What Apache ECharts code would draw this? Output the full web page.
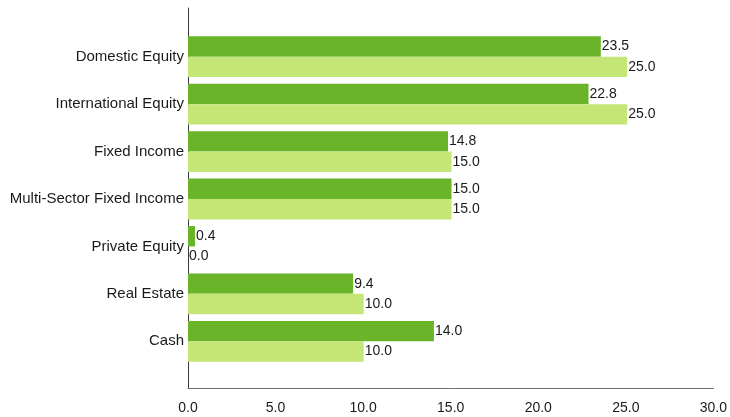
<!DOCTYPE html>
<html>
<head>
<meta charset="utf-8">
<script src="https://cdn.jsdelivr.net/npm/echarts@6/dist/echarts.min.js"></script>
<style>
  html, body { margin: 0; padding: 0; background: #fff; }
  #chart { width: 730px; height: 417px; }
</style>
</head>
<body>
<div id="chart"></div>
<script>
// Asset classes, top to bottom
const categories = [
  'Domestic Equity',
  'International Equity',
  'Fixed Income',
  'Multi-Sector Fixed Income',
  'Private Equity',
  'Real Estate',
  'Cash'
];
// Current allocation (%)
const currentAlloc = [23.5, 22.8, 14.8, 15.0, 0.4, 9.4, 14.0];
// Target allocation (%)
const targetAlloc = [25.0, 25.0, 15.0, 15.0, 0.0, 10.0, 10.0];
// Value axis ticks
const axisMin = 0;
const axisMax = 30;
const axisStep = 5;

const FONT = '"Liberation Sans", Arial, sans-serif';
const TEXT = '#1a1a1a';

const chart = echarts.init(document.getElementById('chart'), null, { renderer: 'canvas' });

const valueLabel = {
  show: true,
  position: 'right',
  distance: 1,
  color: TEXT,
  fontFamily: FONT,
  fontSize: 14,
  formatter: p => Number(p.value).toFixed(1)
};

chart.setOption({
  animation: false,
  backgroundColor: '#fff',
  grid: [
    // bars
    { left: 188, right: 15, top: 33, bottom: 52 },
    // frame with axis lines and tick labels
    { left: 188, right: 15, top: 8, bottom: 29 }
  ],
  xAxis: [
    {
      gridIndex: 0, type: 'value', min: axisMin, max: axisMax, interval: axisStep,
      show: false
    },
    {
      gridIndex: 1, type: 'value', min: axisMin, max: axisMax, interval: axisStep,
      axisLine: { show: true, onZero: false, lineStyle: { color: '#6e6e6e', width: 1 } },
      axisTick: { show: false },
      splitLine: { show: false },
      axisLabel: {
        margin: 13, color: TEXT, fontFamily: FONT, fontSize: 14,
        formatter: v => v.toFixed(1)
      }
    }
  ],
  yAxis: [
    {
      gridIndex: 0, type: 'category', data: categories, inverse: true,
      axisLine: { show: false },
      axisTick: { show: false },
      splitLine: { show: false },
      axisLabel: { margin: 4, color: TEXT, fontFamily: FONT, fontSize: 15 }
    },
    {
      gridIndex: 1, type: 'value', min: 0, max: 1,
      axisLine: { show: true, onZero: false, lineStyle: { color: '#3a3a3a', width: 1 } },
      axisTick: { show: false },
      axisLabel: { show: false },
      splitLine: { show: false }
    }
  ],
  series: [
    {
      name: 'Current',
      type: 'bar',
      xAxisIndex: 0, yAxisIndex: 0,
      data: currentAlloc,
      barGap: '0%',
      barCategoryGap: '14%',
      itemStyle: { color: '#6ab42a' },
      label: valueLabel
    },
    {
      name: 'Target',
      type: 'bar',
      xAxisIndex: 0, yAxisIndex: 0,
      data: targetAlloc,
      barGap: '0%',
      barCategoryGap: '14%',
      itemStyle: { color: '#c3e677' },
      label: valueLabel
    }
  ]
});
</script>
</body>
</html>
